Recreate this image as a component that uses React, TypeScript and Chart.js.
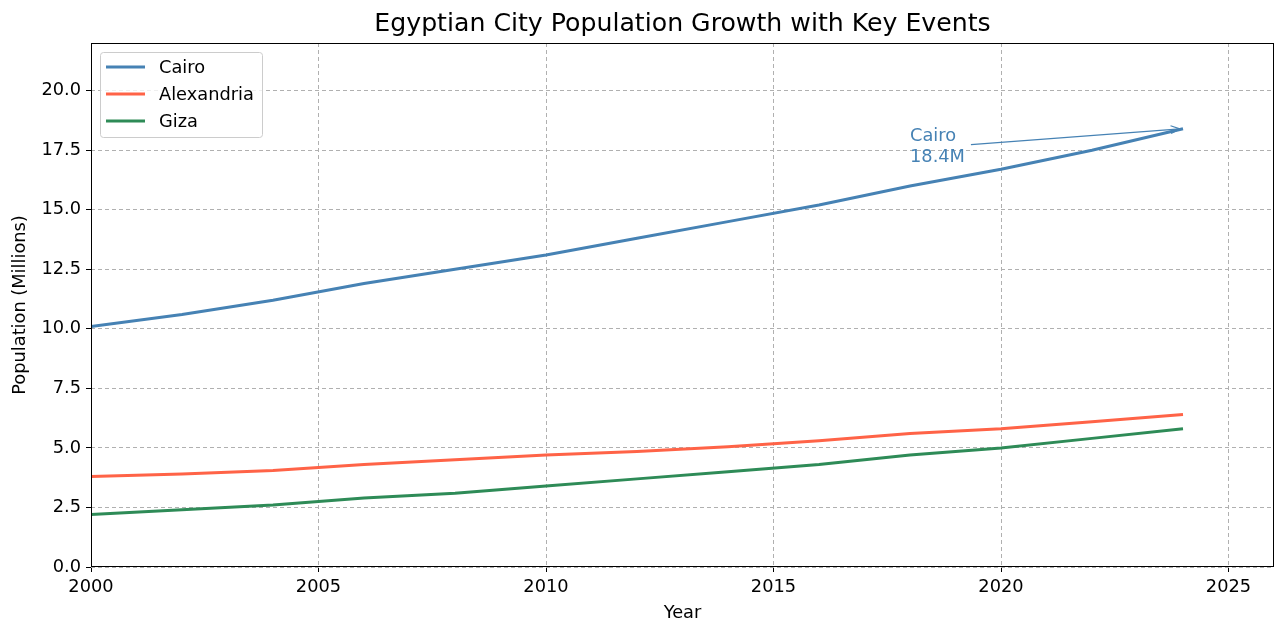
import React, { useEffect, useRef } from "react";
import { Chart, registerables } from "chart.js";

Chart.register(...registerables);

const years = [2000, 2002, 2004, 2006, 2008, 2010, 2012, 2014, 2016, 2018, 2020, 2022, 2024];
const cairo = [10.1, 10.6, 11.2, 11.9, 12.5, 13.1, 13.8, 14.5, 15.2, 16.0, 16.7, 17.5, 18.4];
const alexandria = [3.8, 3.9, 4.05, 4.3, 4.5, 4.7, 4.85, 5.05, 5.3, 5.6, 5.8, 6.1, 6.4];
const giza = [2.2, 2.4, 2.6, 2.9, 3.1, 3.4, 3.7, 4.0, 4.3, 4.7, 5.0, 5.4, 5.8];
const seriesNames = ["Cairo", "Alexandria", "Giza"];
const seriesColors = ["#4682B4", "#FF6347", "#2E8B57"];
const xTicks = [2000, 2005, 2010, 2015, 2020, 2025];
const yTicks = [0, 2.5, 5, 7.5, 10, 12.5, 15, 17.5, 20];
const annotationText = ["Cairo", "18.4M"];
const annotationPoint = { x: 2024, y: 18.4 };
const annotationTextAt = { x: 2018, y: 17 };
const titleText = "Egyptian City Population Growth with Key Events";
const xTitle = "Year";
const yTitle = "Population (Millions)";

const FONT = "DejaVu Sans";
const FS = 17.8;

export default function App() {
  const ref = useRef<HTMLCanvasElement | null>(null);
  useEffect(() => {
    if (!ref.current) return;
    const series = [cairo, alexandria, giza];
    const overlay = {
      id: "overlay",
      afterDatasetsDraw(chart: any) {
        const ctx = chart.ctx;
        const area = chart.chartArea;
        const xs = chart.scales.x;
        const ys = chart.scales.y;
        ctx.save();
        // frame
        ctx.strokeStyle = "#000";
        ctx.lineWidth = 1;
        ctx.setLineDash([]);
        ctx.strokeRect(Math.round(area.left) + 0.5, Math.round(area.top) + 0.5, Math.round(area.right - area.left) - 1, Math.round(area.bottom - area.top) - 1);
        // annotation
        ctx.font = `${FS}px "${FONT}"`;
        ctx.fillStyle = seriesColors[0];
        ctx.textAlign = "left";
        ctx.textBaseline = "alphabetic";
        const tx = xs.getPixelForValue(annotationTextAt.x);
        const ty = ys.getPixelForValue(annotationTextAt.y);
        const lh = 21;
        ctx.fillText(annotationText[0], tx, ty - lh);
        ctx.fillText(annotationText[1], tx, ty);
        const w = Math.max(...annotationText.map((t) => ctx.measureText(t).width));
        const sx = tx + w + 6;
        const sy = ty - lh / 2 - 7;
        const px = xs.getPixelForValue(annotationPoint.x);
        const py = ys.getPixelForValue(annotationPoint.y);
        const ang = Math.atan2(py - sy, px - sx);
        const ex = px - Math.cos(ang) * 3;
        const ey = py - Math.sin(ang) * 3;
        ctx.strokeStyle = seriesColors[0];
        ctx.lineWidth = 1.2;
        ctx.beginPath();
        ctx.moveTo(sx, sy);
        ctx.lineTo(ex, ey);
        ctx.stroke();
        const hl = 10;
        ctx.beginPath();
        ctx.moveTo(ex - hl * Math.cos(ang - 0.4), ey - hl * Math.sin(ang - 0.4));
        ctx.lineTo(ex, ey);
        ctx.lineTo(ex - hl * Math.cos(ang + 0.4), ey - hl * Math.sin(ang + 0.4));
        ctx.stroke();
        // legend
        const lx = area.left + 9;
        const ly = area.top + 9;
        const lw = 162;
        const lhgt = 85;
        ctx.fillStyle = "rgba(255,255,255,0.8)";
        ctx.strokeStyle = "#cccccc";
        ctx.lineWidth = 1;
        ctx.beginPath();
        (ctx as any).roundRect(lx + 0.5, ly + 0.5, lw, lhgt, 3);
        ctx.fill();
        ctx.stroke();
        ctx.font = `${FS}px "${FONT}"`;
        ctx.textBaseline = "middle";
        seriesNames.forEach((n, i) => {
          const yy = ly + 15 + i * 27;
          ctx.strokeStyle = seriesColors[i];
          ctx.lineWidth = 3;
          ctx.beginPath();
          ctx.moveTo(lx + 6, yy);
          ctx.lineTo(lx + 45, yy);
          ctx.stroke();
          ctx.fillStyle = "#000";
          ctx.fillText(n, lx + 59, yy + 1);
        });
        ctx.restore();
      },
      afterDraw(chart: any) {
        const ctx = chart.ctx;
        const area = chart.chartArea;
        ctx.save();
        ctx.fillStyle = "#000";
        ctx.font = `25.2px "${FONT}"`;
        ctx.textAlign = "center";
        ctx.textBaseline = "middle";
        ctx.fillText(titleText, (area.left + area.right) / 2, 24);
        ctx.font = `${FS}px "${FONT}"`;
        ctx.fillText(xTitle, (area.left + area.right) / 2, 613);
        ctx.translate(20, (area.top + area.bottom) / 2);
        ctx.rotate(-Math.PI / 2);
        ctx.fillText(yTitle, 0, 0);
        ctx.restore();
      },
    };
    const gridCommon = {
      color: "#b0b0b0",
      tickBorderDash: [],
      tickColor: "#000",
      tickLength: 5,
      lineWidth: 1,
    } as any;
    const chart = new Chart(ref.current, {
      type: "line",
      data: {
        datasets: series.map((s, i) => ({
          label: seriesNames[i],
          data: s.map((v, j) => ({ x: years[j], y: v })),
          borderColor: seriesColors[i],
          backgroundColor: seriesColors[i],
          borderWidth: 3,
          pointRadius: 0,
          tension: 0,
          fill: false,
        })),
      },
      options: {
        animation: false,
        responsive: false,
        maintainAspectRatio: false,
        layout: { padding: { top: 43, right: 12, left: 0, bottom: 0 } },
        plugins: {
          legend: { display: false },
          title: { display: false },
          tooltip: { enabled: false },
        },
        scales: {
          x: {
            type: "linear",
            min: 2000,
            max: 2026,
            afterFit(scale: any) {
              scale.height = 69;
            },
            afterBuildTicks(scale: any) {
              scale.ticks = xTicks.map((v) => ({ value: v }));
            },
            ticks: {
              color: "#000",
              font: { family: FONT, size: FS },
              padding: 5,
              maxRotation: 0,
              callback: (v: any) => String(v),
            },
            grid: gridCommon,
            border: { display: false, color: "#000", dash: [4, 3] } as any,
          },
          y: {
            type: "linear",
            min: 0,
            max: 22,
            afterFit(scale: any) {
              scale.width = 91;
            },
            afterBuildTicks(scale: any) {
              scale.ticks = yTicks.map((v) => ({ value: v }));
            },
            ticks: {
              color: "#000",
              font: { family: FONT, size: FS },
              padding: 5,
              callback: (v: any) => Number(v).toFixed(1),
            },
            grid: gridCommon,
            border: { display: false, color: "#000", dash: [4, 3] } as any,
          },
        },
      },
      plugins: [overlay],
    } as any);
    return () => chart.destroy();
  }, []);
  return (
    <div style={{ position: "absolute", left: 0, top: 0, width: 1286, height: 636, background: "#fff" }}>
      <canvas ref={ref} width={1286} height={636} style={{ width: 1286, height: 636 }} />
    </div>
  );
}
